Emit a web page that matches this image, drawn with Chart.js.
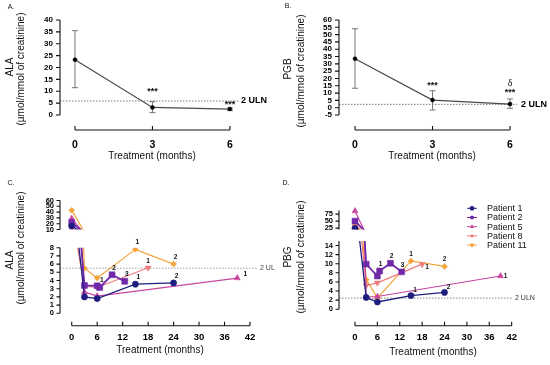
<!DOCTYPE html>
<html>
<head>
<meta charset="utf-8">
<script src="https://cdn.jsdelivr.net/npm/chart.js@4.4.1/dist/chart.umd.min.js"></script>
<style>
  html, body { margin: 0; padding: 0; background: #fff; }
  #wrap { position: relative; width: 550px; height: 365px; overflow: hidden; font-family: 'Liberation Sans', Arial, sans-serif; }
  canvas { position: absolute; }
</style>
</head>
<body>
<div id="wrap">
  <canvas id="cA" width="275" height="180" style="left:0;top:0"></canvas>
  <canvas id="cB" width="275" height="180" style="left:275px;top:0"></canvas>
  <canvas id="cC" width="275" height="185" style="left:0;top:180px"></canvas>
  <canvas id="cCtop" width="275" height="50" style="left:0;top:190px"></canvas>
  <canvas id="cD" width="275" height="185" style="left:275px;top:180px"></canvas>
  <canvas id="cDtop" width="275" height="40" style="left:275px;top:200px"></canvas>
</div>
<script>
// --- panels A / B : group means at each visit ---
const visitMonths = [0, 3, 6];
const alaMean = [23.3, 3.2, 2.5];
const alaHigh = [35.5, 5.6, 2.9];
const alaLow = [11.5, 1.0, 1.9];
const alaStars = ['', '***', '***'];
const alaStarsAt = [null, 9.7, 4.6];
const pbgMean = [33.5, 5.2, 2.5];
const pbgHigh = [54, 11.6, 6.0];
const pbgLow = [13.3, -1.6, -0.4];
const pbgStars = ['', '***', '***'];
const pbgStarsAt = [null, 15.5, 10.1];
const pbgDelta = ['', '', 'δ'];
const pbgDeltaAt = [null, null, 16.3];

// 2 x upper limit of normal
const ulnA = 5.9;
const ulnB = 2.3;
const ulnC = 5.5;
const ulnD = 2.45;

// tick labels
const ticksA = [0, 5, 10, 15, 20, 25, 30, 35, 40];
const ticksB = [-5, 0, 5, 10, 15, 20, 25, 30, 35, 40, 45, 50, 55, 60];
const ticksCtop = [10, 20, 30, 40, 50, 60];
const ticksCbottom = [0, 1, 2, 3, 4, 5, 6, 7, 8];
const ticksDtop = [25, 50, 75];
const ticksDbottom = [0, 2, 4, 6, 8, 10, 12, 14];
const monthTicksAB = [0, 3, 6];
const monthTicksCD = [0, 6, 12, 18, 24, 30, 36, 42];

// --- panels C / D : single patients ---
const patients = ['Patient 1', 'Patient 2', 'Patient 5', 'Patient 8', 'Patient 11'];
const p1Months = [0, 3, 6, 15, 24];
const p1Ala = [16, 2.0, 1.8, 3.55, 3.7];
const p1Pbg = [24, 2.6, 1.6, 3.0, 3.7];
const p1Dose = ['', '', '', '1', '2'];
const p2Months = [0, 3, 6, 6.6, 9.5, 12.5];
const p2Ala = [22, 3.4, 3.35, 3.15, 4.7, 3.9];
const p2Pbg = [50, 9.9, 7.3, 8.4, 10.1, 8.2];
const p2Dose = ['', '', '', '1', '2', '3'];
const p5Months = [0, 3, 6, 39];
const p5Ala = [29, 2.6, 2.1, 4.3];
const p5Pbg = [86, 2.7, 2.8, 7.3];
const p5Dose = ['', '', '', '1'];
const p8Months = [0, 3, 6, 18];
const p8Ala = [12, 3.3, 3.15, 5.55];
const p8Pbg = [30, 5.2, 5.8, 9.9];
const p8Dose = ['', '', '', '1'];
const p11Months = [0, 3, 6, 15, 24];
const p11Ala = [43, 5.5, 4.3, 7.8, 6.0];
const p11Pbg = [35, 6.5, 2.5, 10.6, 9.4];
const p11Dose = ['', '', '', '1', '2'];

const FONT = "'Liberation Sans', Arial, sans-serif";

// GraphPad style axes, ULN line, error bars and text marks
const gpPlugin = {
  id: 'gp',
  beforeDatasetsDraw(chart, args, o) {
    const { ctx, chartArea: a } = chart;
    const x = chart.scales.x, y = chart.scales.y;
    ctx.save();
    if (o.uln !== undefined) {
      const py = y.getPixelForValue(o.uln);
      ctx.strokeStyle = o.ulnColor;
      ctx.lineWidth = 0.8;
      ctx.setLineDash([1.5, 1.5]);
      ctx.beginPath();
      ctx.moveTo(a.left, py);
      ctx.lineTo(a.right, py);
      ctx.stroke();
      ctx.setLineDash([]);
      ctx.fillStyle = o.ulnTextColor;
      ctx.font = o.ulnFont;
      ctx.textBaseline = 'middle';
      ctx.fillText('2 ULN', a.right + o.ulnGap, py);
    }
    if (o.err) {
      ctx.strokeStyle = '#666';
      ctx.lineWidth = 0.9;
      o.err.x.forEach((m, i) => {
        const px = x.getPixelForValue(m);
        const hi = y.getPixelForValue(o.err.hi[i]);
        const lo = y.getPixelForValue(o.err.lo[i]);
        ctx.beginPath();
        ctx.moveTo(px, hi); ctx.lineTo(px, lo);
        ctx.moveTo(px - 3, hi); ctx.lineTo(px + 3, hi);
        ctx.moveTo(px - 3, lo); ctx.lineTo(px + 3, lo);
        ctx.stroke();
      });
    }
    ctx.strokeStyle = '#111';
    ctx.lineWidth = 1.1;
    if (o.yAxis) {
      ctx.beginPath();
      ctx.moveTo(a.left, y.getPixelForValue(o.yAxis[0]));
      ctx.lineTo(a.left, y.getPixelForValue(o.yAxis[1]));
      y.ticks.forEach(t => {
        const py = y.getPixelForValue(t.value);
        ctx.moveTo(a.left - o.tick, py);
        ctx.lineTo(a.left, py);
      });
      ctx.stroke();
    }
    if (o.xAxis) {
      const py = a.bottom;
      ctx.beginPath();
      ctx.moveTo(x.getPixelForValue(o.xAxis[0]), py);
      ctx.lineTo(x.getPixelForValue(o.xAxis[1]), py);
      x.ticks.forEach(t => {
        const px = x.getPixelForValue(t.value);
        ctx.moveTo(px, py - 4);
        ctx.lineTo(px, py);
      });
      ctx.stroke();
    }
    ctx.restore();
  },
  afterDatasetsDraw(chart, args, o) {
    const { ctx } = chart;
    const x = chart.scales.x, y = chart.scales.y;
    ctx.save();
    ctx.textAlign = 'center';
    ctx.textBaseline = 'middle';
    ctx.fillStyle = '#111';
    (o.marks || []).forEach(mk => {
      ctx.font = mk.font;
      mk.at.forEach((v, i) => {
        if (v === null || !mk.text[i]) return;
        ctx.fillText(mk.text[i], x.getPixelForValue(visitMonths[i]), y.getPixelForValue(v));
      });
    });
    if (o.dose) {
      ctx.font = 'bold 6.5px ' + FONT;
      chart.data.datasets.forEach((ds, di) => {
        const [dx, dy] = o.doseOffset[di];
        ds.data.forEach((p, i) => {
          if (!o.dose[di][i]) return;
          ctx.fillText(o.dose[di][i], x.getPixelForValue(p.x) + dx, y.getPixelForValue(p.y) + dy);
        });
      });
    }
    if (o.legend) {
      const L = o.legend;
      ctx.textAlign = 'left';
      ctx.font = '9px ' + FONT;
      chart.data.datasets.forEach((ds, i) => {
        const ly = L.y + i * L.dy;
        ctx.strokeStyle = ds.borderColor;
        ctx.fillStyle = ds.borderColor;
        ctx.lineWidth = 1;
        ctx.beginPath();
        ctx.moveTo(L.x - 5, ly); ctx.lineTo(L.x + 5, ly);
        ctx.stroke();
        if (Chart.helpers && Chart.helpers.drawPoint) {
          Chart.helpers.drawPoint(ctx, { pointStyle: ds.pointStyle, rotation: ds.pointRotation || 0, radius: 2.4, borderWidth: 0 }, L.x, ly);
        }
        ctx.fillStyle = '#111';
        ctx.fillText(ds.label, L.x + 15, ly + 0.5);
      });
    }
    ctx.restore();
  }
};
Chart.register(gpPlugin);

function makeChart(id, c) {
  return new Chart(document.getElementById(id), {
    type: 'line',
    data: { datasets: c.datasets },
    options: {
      responsive: false,
      animation: false,
      events: [],
      layout: { padding: c.pad },
      plugins: { legend: { display: false }, tooltip: { enabled: false }, gp: c.gp },
      scales: {
        x: {
          type: 'linear', min: c.xMin, max: c.xMax, display: c.xH > 0,
          grid: { display: false, drawTicks: false }, border: { display: false },
          afterBuildTicks: s => { s.ticks = c.xTicks.map(v => ({ value: v })); },
          afterFit: s => { s.height = c.xH; },
          ticks: { autoSkip: false, maxRotation: 0, padding: c.xPad, color: '#000', font: { family: FONT, size: c.xFont, weight: 'bold' } }
        },
        y: {
          type: 'linear', min: c.yMin, max: c.yMax,
          grid: { display: false, drawTicks: false }, border: { display: false },
          afterBuildTicks: s => { s.ticks = c.yTicks.map(v => ({ value: v })); },
          afterFit: s => { s.width = c.yW; },
          ticks: { autoSkip: false, padding: c.yPad, color: '#000', font: { family: FONT, size: c.yFont, weight: 'bold' } }
        }
      }
    }
  });
}

function meanSeries(values) {
  return [{
    data: visitMonths.map((m, i) => ({ x: m, y: values[i] })),
    borderColor: '#4a4a4a', borderWidth: 1.2, tension: 0,
    pointRadius: 2, pointBackgroundColor: '#000', pointBorderColor: '#000', pointBorderWidth: 0.5
  }];
}

// one dataset per patient; markers only where the value lies inside this axis segment
function patientSeries(key, clip, lo, hi) {
  const sets = [
    [p1Months, key === 'ala' ? p1Ala : p1Pbg, '#1e1e80', 'circle', 0, 1.3, 3.1],
    [p2Months, key === 'ala' ? p2Ala : p2Pbg, '#7028a8', 'rect', 0, 1.8, 4.2],
    [p5Months, key === 'ala' ? p5Ala : p5Pbg, '#c8459f', 'triangle', 0, 1.2, 3.5],
    [p8Months, key === 'ala' ? p8Ala : p8Pbg, '#ef7b7b', 'triangle', 180, 1.2, 3.5],
    [p11Months, key === 'ala' ? p11Ala : p11Pbg, '#f3a53c', 'rectRot', 0, 1.2, 3.0]
  ];
  return sets.map(([months, vals, color, style, rot, w, r], i) => ({
    label: patients[i],
    data: months.map((m, j) => ({ x: m, y: vals[j] })),
    borderColor: color, backgroundColor: color,
    pointBackgroundColor: color, pointBorderColor: color, pointBorderWidth: 0.5,
    pointStyle: style, pointRotation: rot,
    pointRadius: c => (c.raw && c.raw.y >= lo && c.raw.y <= hi) ? r : 0,
    borderWidth: w, tension: 0, clip: clip
  }));
}

const doseLabels = [p1Dose, p2Dose, p5Dose, p8Dose, p11Dose];

// A
makeChart('cA', {
  datasets: meanSeries(alaMean),
  pad: { left: 0, top: 20, right: 35, bottom: 0 },
  xMin: -0.58, xMax: 6.39, xTicks: monthTicksAB, xH: 50, xPad: 9, xFont: 10.5,
  yMin: -6.32, yMax: 40, yTicks: ticksA, yW: 60, yPad: 7, yFont: 8,
  gp: {
    uln: ulnA, ulnColor: '#555', ulnTextColor: '#000', ulnFont: 'bold 9px ' + FONT, ulnGap: 1,
    err: { x: visitMonths, hi: alaHigh, lo: alaLow },
    yAxis: [0, 40], xAxis: [0, 6], tick: 4,
    marks: [{ text: alaStars, at: alaStarsAt, font: 'bold 9px ' + FONT }]
  }
});

// B
makeChart('cB', {
  datasets: meanSeries(pbgMean),
  pad: { left: 0, top: 20, right: 33, bottom: 0 },
  xMin: -0.62, xMax: 6.27, xTicks: monthTicksAB, xH: 50, xPad: 9, xFont: 10.5,
  yMin: -15.26, yMax: 60, yTicks: ticksB, yW: 64, yPad: 7, yFont: 8,
  gp: {
    uln: ulnB, ulnColor: '#555', ulnTextColor: '#000', ulnFont: 'bold 9px ' + FONT, ulnGap: 4,
    err: { x: visitMonths, hi: pbgHigh, lo: pbgLow },
    yAxis: [-5, 60], xAxis: [0, 6], tick: 4,
    marks: [
      { text: pbgStars, at: pbgStarsAt, font: 'bold 9px ' + FONT },
      { text: pbgDelta, at: pbgDeltaAt, font: "10px 'Liberation Serif', serif" }
    ]
  }
});

// C bottom segment (0-8) with time axis
makeChart('cC', {
  datasets: patientSeries('ala', { left: 5, right: 5, top: 0, bottom: 5 }, 0, 8),
  pad: { left: 0, top: 67.7, right: 18, bottom: 0 },
  xMin: -2.76, xMax: 43.65, xTicks: monthTicksCD, xH: 39.3, xPad: 6, xFont: 9.5,
  yMin: -1.51, yMax: 8, yTicks: ticksCbottom, yW: 60, yPad: 6, yFont: 7.5,
  gp: {
    uln: ulnC, ulnColor: '#888', ulnTextColor: '#444', ulnFont: '7px ' + FONT, ulnGap: 3,
    yAxis: [0, 8], xAxis: [0, 42], tick: 3.5,
    dose: doseLabels,
    doseOffset: [[3, -7], [2, -7], [8, -4], [0, -7], [2, -7]]
  }
});

// C top segment (10-60)
makeChart('cCtop', {
  datasets: patientSeries('ala', { left: 5, right: 5, top: 5, bottom: 0 }, 10, 60),
  pad: { left: 0, top: 7.7, right: 18, bottom: 8.5 },
  xMin: -2.76, xMax: 43.65, xTicks: monthTicksCD, xH: 0, xPad: 0, xFont: 9.5,
  yMin: 10, yMax: 60, yTicks: ticksCtop, yW: 60, yPad: 6, yFont: 7.5,
  gp: { yAxis: [10, 60], tick: 3.5 }
});

// D bottom segment (0-15) with time axis and legend
makeChart('cD', {
  datasets: patientSeries('pbg', { left: 5, right: 5, top: 0, bottom: 5 }, 0, 15),
  pad: { left: 0, top: 60.9, right: 38, bottom: 0 },
  xMin: -4.29, xMax: 42.09, xTicks: monthTicksCD, xH: 39.3, xPad: 6, xFont: 9.5,
  yMin: -3.6, yMax: 15, yTicks: ticksDbottom, yW: 64, yPad: 6, yFont: 7.5,
  gp: {
    uln: ulnD, ulnColor: '#666', ulnTextColor: '#333', ulnFont: '7px ' + FONT, ulnGap: 3,
    yAxis: [0, 15], xAxis: [0, 42], tick: 3.5,
    dose: doseLabels,
    doseOffset: [[4, -5], [1, -7], [5, 0], [5, 3], [0, -7]],
    legend: { x: 197, y: 28.3, dy: 9.2 }
  }
});

// D top segment (20-88)
makeChart('cDtop', {
  datasets: patientSeries('pbg', { left: 5, right: 5, top: 6, bottom: 0 }, 20, 88),
  pad: { left: 0, top: 5, right: 38, bottom: 9.1 },
  xMin: -4.29, xMax: 42.09, xTicks: monthTicksCD, xH: 0, xPad: 0, xFont: 9.5,
  yMin: 20, yMax: 88, yTicks: ticksDtop, yW: 64, yPad: 6, yFont: 7.5,
  gp: { yAxis: [20, 88], tick: 3.5 }
});

// titles and panel letters as page text
const wrap = document.getElementById('wrap');
function addText(txt, cx, cy, font, rotate) {
  const d = document.createElement('div');
  d.textContent = txt;
  d.style.cssText = 'position:absolute;width:200px;height:16px;line-height:16px;text-align:center;white-space:nowrap;color:#111;' +
    'left:' + (cx - 100) + 'px;top:' + (cy - 8) + 'px;font:' + font + ';' + (rotate ? 'transform:rotate(-90deg);' : '');
  wrap.appendChild(d);
}
const titleFont = '10px ' + FONT;
addText('A.', 11, 11, '7px ' + FONT);
addText('B.', 288, 10, '7px ' + FONT);
addText('C.', 11, 187, '7px ' + FONT);
addText('D.', 286, 187, '7px ' + FONT);
addText('ALA', 12, 67, titleFont, true);
addText('(µmol/mmol of creatinine)', 23, 69, titleFont, true);
addText('PGB', 290, 69, titleFont, true);
addText('(µmol/mmol of creatinine)', 303, 71, titleFont, true);
addText('ALA', 12, 260, titleFont, true);
addText('(µmol/mmol of creatinine)', 23, 248, titleFont, true);
addText('PBG', 290, 257, titleFont, true);
addText('(µmol/mmol of creatinine)', 303, 257, titleFont, true);
addText('Treatment (months)', 152, 158, titleFont);
addText('Treatment (months)', 432, 158, titleFont);
addText('Treatment (months)', 160, 352, titleFont);
addText('Treatment (months)', 433, 354, titleFont);
</script>
</body>
</html>
